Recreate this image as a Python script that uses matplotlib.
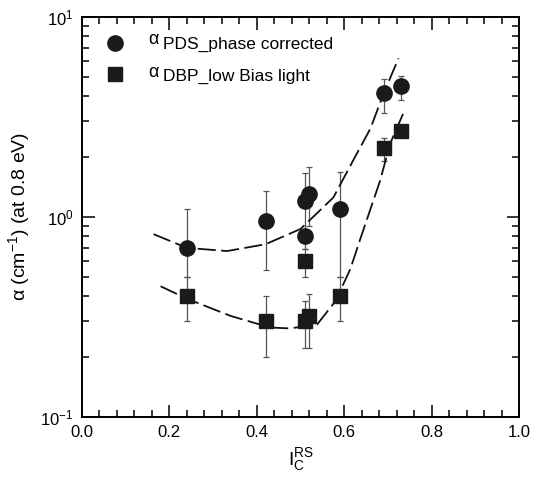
import matplotlib.pyplot as plt
import matplotlib.ticker as mticker

plt.rcParams['font.family'] = ['Liberation Sans', 'DejaVu Sans']
plt.rcParams['mathtext.fontset'] = 'custom'
plt.rcParams['mathtext.rm'] = 'Liberation Sans'
plt.rcParams['mathtext.it'] = 'Liberation Sans'

# alpha_PDS (phase corrected)
pds_x = [0.24, 0.42, 0.51, 0.52, 0.51, 0.59, 0.69, 0.73]
pds_y = [0.70, 0.95, 1.20, 1.30, 0.80, 1.10, 4.15, 4.50]
pds_lo = [0.50, 0.54, 0.85, 0.90, 0.69, 0.50, 3.30, 3.85]
pds_hi = [1.10, 1.34, 1.66, 1.78, 0.85, 1.68, 4.90, 5.05]

# alpha_DBP (low bias light)
dbp_x = [0.24, 0.42, 0.51, 0.52, 0.51, 0.59, 0.69, 0.73]
dbp_y = [0.40, 0.30, 0.30, 0.32, 0.60, 0.40, 2.20, 2.70]
dbp_lo = [0.30, 0.20, 0.22, 0.22, 0.50, 0.30, 1.90, 2.70]
dbp_hi = [0.50, 0.40, 0.38, 0.41, 0.69, 0.50, 2.47, 2.70]

# dashed guide curves
pds_fit_x = [0.164, 0.24, 0.332, 0.42, 0.50, 0.575, 0.62, 0.66, 0.69, 0.724]
pds_fit_y = [0.82, 0.70, 0.675, 0.73, 0.87, 1.25, 1.91, 2.77, 4.15, 6.2]
dbp_fit_x = [0.18, 0.24, 0.34, 0.43, 0.476, 0.538, 0.58, 0.614, 0.637, 0.682, 0.705, 0.735]
dbp_fit_y = [0.45, 0.39, 0.32, 0.28, 0.277, 0.29, 0.38, 0.55, 0.78, 1.52, 2.33, 3.3]

legend_labels = ['PDS_phase corrected', 'DBP_low Bias light']

fig = plt.figure(figsize=(5.42, 4.82), dpi=100)
ax = fig.add_axes([0.151, 0.135, 0.807, 0.830])

def yerr(y, lo, hi):
    return [[v - l for v, l in zip(y, lo)], [h - v for v, h in zip(y, hi)]]

ax.errorbar(pds_x, pds_y, yerr=yerr(pds_y, pds_lo, pds_hi), fmt='none',
            ecolor='#555555', elinewidth=0.9, capsize=2.5, capthick=0.9, zorder=2)
ax.errorbar(dbp_x, dbp_y, yerr=yerr(dbp_y, dbp_lo, dbp_hi), fmt='none',
            ecolor='#555555', elinewidth=0.9, capsize=2.5, capthick=0.9, zorder=2)

ax.plot(pds_fit_x, pds_fit_y, color='#111111', lw=1.3, dashes=(10, 3), zorder=3)
ax.plot(dbp_fit_x, dbp_fit_y, color='#111111', lw=1.3, dashes=(10, 3), zorder=3)

ax.plot(pds_x, pds_y, 'o', color='#1a1a1a', ms=11, zorder=4)
ax.plot(dbp_x, dbp_y, 's', color='#1a1a1a', ms=10, zorder=4)

ax.set_yscale('log')
ax.set_xlim(0, 1)
ax.set_ylim(0.1, 10)
ax.xaxis.set_major_locator(mticker.MultipleLocator(0.2))
ax.xaxis.set_minor_locator(mticker.MultipleLocator(0.04))
ax.xaxis.set_major_formatter(mticker.FormatStrFormatter('%.1f'))
ax.yaxis.set_minor_formatter(mticker.NullFormatter())

ax.tick_params(which='both', direction='in', top=True, right=True, labelsize=12, width=1.1)
ax.tick_params(which='major', length=9, pad=6)
ax.tick_params(which='minor', length=5)
for s in ax.spines.values():
    s.set_linewidth(1.4)

ax.set_xlabel(r'$\mathregular{I_C^{RS}}$', fontsize=14, labelpad=4)
ax.set_ylabel('α (cm$^{\\mathregular{-1}}$) (at 0.8 eV)', fontsize=14, labelpad=6)

# hand-drawn legend
ax.plot([0.0755], [0.935], 'o', color='#1a1a1a', ms=11, transform=ax.transAxes, clip_on=False)
ax.plot([0.0755], [0.8575], 's', color='#1a1a1a', ms=10, transform=ax.transAxes, clip_on=False)
for yy, lab in zip([0.932, 0.85], legend_labels):
    ax.text(0.151, yy + 0.012, 'α', transform=ax.transAxes, fontsize=13, va='center')
    ax.text(0.185, yy, lab, transform=ax.transAxes, fontsize=12.5, va='center')

fig.savefig('out.png', dpi=100)
